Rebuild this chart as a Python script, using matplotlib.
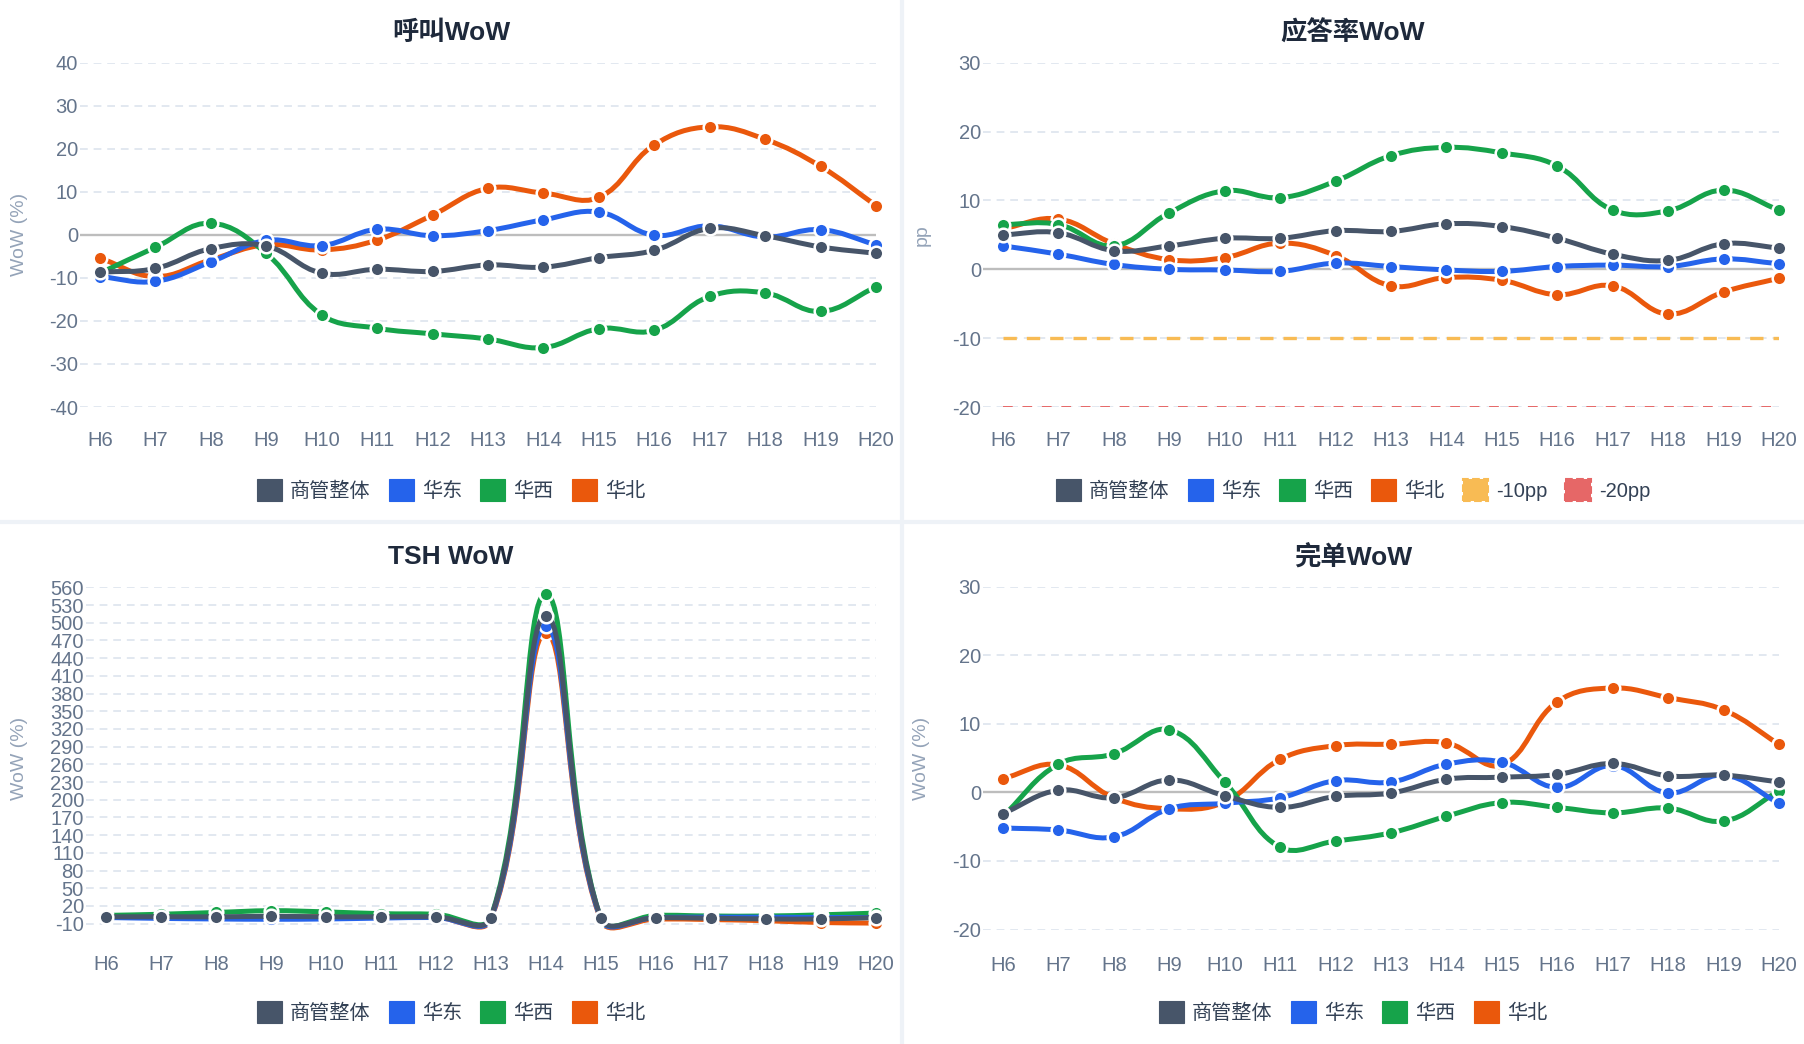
import numpy as np
import matplotlib
matplotlib.use('Agg')
import matplotlib.pyplot as plt
from matplotlib.path import Path
from matplotlib.patches import PathPatch, Patch
from matplotlib.lines import Line2D

plt.rcParams['font.family'] = ['Liberation Sans', 'Noto Sans CJK SC', 'DejaVu Sans']
plt.rcParams['axes.unicode_minus'] = False

W, H = 1804, 1044

hours = ['H6', 'H7', 'H8', 'H9', 'H10', 'H11', 'H12', 'H13', 'H14', 'H15', 'H16', 'H17', 'H18', 'H19', 'H20']
series_names = ['商管整体', '华东', '华西', '华北']
series_colors = ['#475569', '#2563eb', '#16a34a', '#ea580c']

# 呼叫WoW
call_total = [-8.7, -7.8, -3.2, -2.6, -8.9, -8.0, -8.5, -7.0, -7.5, -5.3, -3.6, 1.5, -0.2, -2.8, -4.3]
call_east = [-9.7, -10.8, -6.3, -1.3, -2.5, 1.3, -0.2, 1.0, 3.5, 5.3, -0.1, 2.1, -0.5, 1.2, -2.3]
call_west = [-8.9, -2.9, 2.7, -4.3, -18.6, -21.7, -23.0, -24.2, -26.2, -21.8, -22.2, -14.3, -13.5, -17.8, -12.1]
call_north = [-5.4, -9.7, -5.8, -2.3, -3.5, -1.2, 4.6, 10.8, 9.7, 8.7, 20.9, 25.1, 22.2, 15.9, 6.8]

# 应答率WoW (pp)
answer_total = [5.0, 5.3, 2.7, 3.4, 4.5, 4.5, 5.6, 5.5, 6.6, 6.2, 4.5, 2.2, 1.3, 3.7, 3.1]
answer_east = [3.4, 2.2, 0.7, 0.0, -0.1, -0.3, 0.9, 0.4, -0.1, -0.3, 0.4, 0.6, 0.4, 1.5, 0.8]
answer_west = [6.5, 6.5, 3.4, 8.2, 11.4, 10.4, 12.8, 16.5, 17.7, 16.9, 15.0, 8.6, 8.5, 11.5, 8.6]
answer_north = [5.9, 7.3, 3.7, 1.4, 1.7, 3.8, 2.0, -2.4, -1.2, -1.6, -3.7, -2.4, -6.5, -3.3, -1.3]
answer_limits = [-10, -20]
limit_names = ['-10pp', '-20pp']
limit_colors = ['#f8bb54', '#e66767']

# TSH WoW
tsh_total = [1.6, 1.8, 1.6, 2.5, 1.6, 1.6, 1.6, 0.3, 512, -0.7, 0.3, -0.7, -1.9, -1.9, 0.3]
tsh_east = [0.5, -1.0, -2.0, -2.5, -2.0, -0.5, 0.5, -1.5, 494, -2.5, 0.5, 1.0, 1.0, 0.5, 0.5]
tsh_west = [4, 6, 9, 12, 10, 7, 6, 1, 549, -2, 4, 3, 3, 5, 8]
tsh_north = [1, 2, 1, 0, 2, 1, 1, -3, 483, -4, -2, -3, -5, -8, -9]

# 完单WoW
done_total = [-3.1, 0.3, -0.8, 1.8, -0.5, -2.2, -0.6, -0.1, 1.9, 2.2, 2.6, 4.2, 2.4, 2.5, 1.5]
done_east = [-5.2, -5.5, -6.5, -2.4, -1.6, -0.8, 1.7, 1.5, 4.1, 4.4, 0.7, 3.9, -0.1, 2.5, -1.6]
done_west = [-3.5, 4.1, 5.6, 9.1, 1.5, -8.0, -7.1, -5.9, -3.5, -1.5, -2.2, -3.0, -2.3, -4.2, 0.2]
done_north = [2.0, 4.0, -0.8, -2.4, -1.4, 4.8, 6.8, 7.0, 7.2, 4.0, 13.2, 15.2, 13.8, 12.0, 7.0]

TITLE_C = '#1e293b'
TICK_C = '#64748b'
YLAB_C = '#94a3b8'
GRID_C = '#e2e8f0'
LEG_C = '#334155'

fig = plt.figure(figsize=(W / 100, H / 100), dpi=100)
fig.patch.set_facecolor('white')


def rect(l, r, t, b):
    return [l / W, 1 - b / H, (r - l) / W, (b - t) / H]


def smooth_line(ax, xs, ys, color, lw, z, tension=0.4):
    # spline through the points, control points built in pixel space
    pts = ax.transData.transform(np.column_stack([xs, ys]))
    n = len(pts)
    cps_prev, cps_next = [], []
    for i in range(n):
        cur = pts[i]
        prev = pts[i - 1] if i > 0 else cur
        nxt = pts[i + 1] if i < n - 1 else cur
        d01 = np.hypot(*(cur - prev))
        d12 = np.hypot(*(nxt - cur))
        s = d01 + d12
        s01 = d01 / s if s else 0
        s12 = d12 / s if s else 0
        cps_prev.append(cur - tension * s01 * (nxt - prev))
        cps_next.append(cur + tension * s12 * (nxt - prev))
    verts = [pts[0]]
    codes = [Path.MOVETO]
    for i in range(1, n):
        verts += [cps_next[i - 1], cps_prev[i], pts[i]]
        codes += [Path.CURVE4] * 3
    verts = ax.transData.inverted().transform(np.array(verts))
    ax.add_patch(PathPatch(Path(verts, codes), facecolor='none', edgecolor=color,
                           lw=lw, zorder=z, clip_on=False, capstyle='round',
                           joinstyle='round'))


def panel(box, ylim, yticks, title, title_xy, ylabel, ylabel_x, data, legend_y,
          xpad, extra=None, zero=True):
    ax = fig.add_axes(rect(*box))
    ax.set_xlim(-0.36, 14)
    ax.set_ylim(*ylim)
    ax.set_yticks(yticks)
    ax.set_yticklabels([str(v) for v in yticks])
    ax.set_xticks(range(len(hours)))
    ax.set_xticklabels(hours)
    ax.tick_params(length=0, labelsize=14.5, colors=TICK_C)
    ax.tick_params(axis='y', pad=1.5)
    ax.tick_params(axis='x', pad=xpad)
    for s in ax.spines.values():
        s.set_visible(False)
    ax.yaxis.grid(True, color=GRID_C, lw=1.4, linestyle=(0, (4, 3)))
    ax.set_axisbelow(True)
    if zero:
        ax.axhline(0, color='#bdbdbd', lw=1.7, zorder=1.2)

    x = np.arange(len(hours))
    if extra:
        for val, name, col, lw, dash in extra:
            ax.plot([0, 14], [val, val], color=col, lw=lw, linestyle=(0, dash), zorder=1.5)
    # regions first, overall series last so it sits on top
    for k in [3, 2, 1, 0]:
        c = series_colors[k]
        smooth_line(ax, x, data[k], c, 3.6, 2 + (3 - k) * 2)
        ax.plot(x, data[k], 'o', ms=9.8, mfc=c, mec='white', mew=1.8,
                zorder=3 + (3 - k) * 2, clip_on=False)

    handles = [Patch(facecolor=c, edgecolor=c, lw=0.8) for c in series_colors]
    labels = list(series_names)
    if extra:
        for val, name, col, lw, dash in extra:
            handles.append(Patch(facecolor=col, edgecolor=col, lw=1.5, linestyle='--'))
            labels.append(name)

    fig.text(title_xy[0] / W, 1 - title_xy[1] / H, title, ha='center', va='center',
             fontsize=19, fontweight='bold', color=TITLE_C)
    b = ax.get_position()
    fig.text(ylabel_x / W, b.y0 + b.height / 2, ylabel, rotation=90, ha='center',
             va='center', fontsize=14, color=YLAB_C)
    fig.legend(handles, labels, loc='center', bbox_to_anchor=(title_xy[0] / W, 1 - legend_y / H),
               ncol=len(labels), frameon=False, fontsize=14.5, handlelength=1.25,
               handleheight=1.25, handletextpad=0.4, columnspacing=0.9, labelcolor=LEG_C)
    return ax


panel((80, 876, 62.7, 407), (-40, 40), list(range(-40, 41, 10)), '呼叫WoW', (451, 33),
      'WoW (%)', 20, [call_total, call_east, call_west, call_north], 490, 17.5)

panel((983, 1779, 62.7, 407), (-20, 30), list(range(-20, 31, 10)), '应答率WoW', (1353, 33),
      'pp', 922, [answer_total, answer_east, answer_west, answer_north], 490, 17.5,
      extra=[(answer_limits[0], limit_names[0], limit_colors[0], 2.4, (4, 3)),
             (answer_limits[1], limit_names[1], limit_colors[1], 1.4, (5, 5))])

panel((86, 876, 587.4, 929), (-19, 560), list(range(-10, 561, 30)), 'TSH WoW', (451, 557),
      'WoW (%)', 20, [tsh_total, tsh_east, tsh_west, tsh_north], 1012, 19, zero=False)

panel((983, 1779, 586.5, 929.5), (-20, 30), list(range(-20, 31, 10)), '完单WoW', (1353, 557),
      'WoW (%)', 922, [done_total, done_east, done_west, done_north], 1012, 19)

# panel separators
fig.add_artist(Line2D([902 / W, 902 / W], [0, 1], color='#eef2f7', lw=3, transform=fig.transFigure))
fig.add_artist(Line2D([0, 1], [1 - 522 / H, 1 - 522 / H], color='#eef2f7', lw=3, transform=fig.transFigure))

fig.savefig('out.png', dpi=100, facecolor='white')
